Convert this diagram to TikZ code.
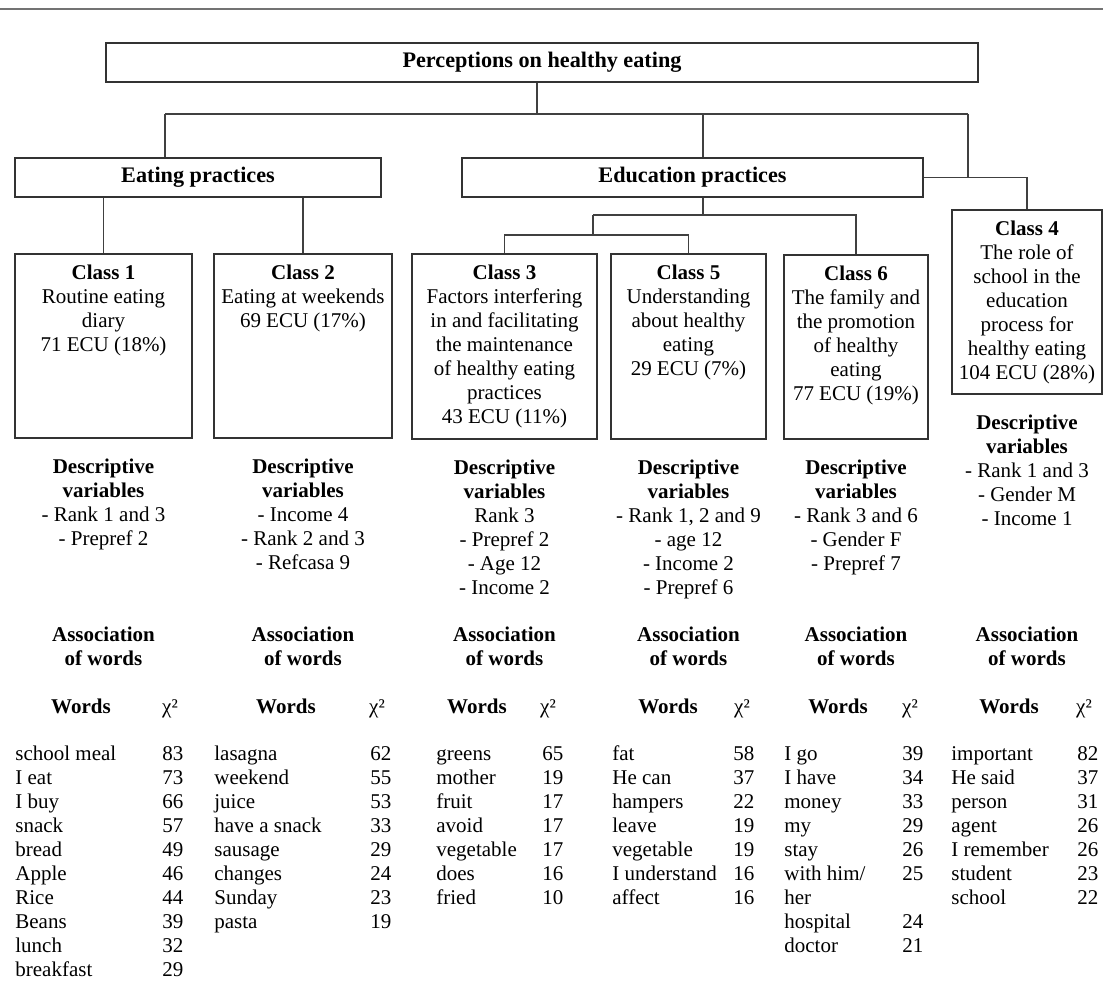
\documentclass[tikz,border=0pt]{standalone}
\usepackage{fontspec}
\setmainfont{Liberation Serif}
\usetikzlibrary{positioning}

\tikzset{
  frame/.style={draw=black!80, line width=0.55pt, inner sep=0pt},
  head/.style={frame, minimum height=19.5pt, font=\fontsize{11.1}{12}\selectfont\bfseries},
  txt/.style={align=center, inner sep=0pt},
  link/.style={draw=black!75, line width=0.55pt},
  words/.style={anchor=north west, inner sep=0pt},
}

\begin{document}
\begin{tikzpicture}[x=0.5pt, y=-0.5pt, font=\fontsize{10.5}{12}\selectfont]
\useasboundingbox (0,0) rectangle (1103,995);
\draw[black!55, line width=1pt] (0,9) -- (1103,9);

% the two upper levels
\node[head, minimum width=436pt] (top) at (542,62.5) {Perceptions on healthy eating};
\node[head, minimum width=183pt] (eat) at (198,177.5) {Eating practices};
\node[head, minimum width=230.5pt] (edu) at (692.5,177.5) {Education practices};

% class boxes
\node[frame, minimum width=88.5pt, minimum height=92pt] (c1) at (103.5,346) {};
\node[frame, minimum width=89pt, minimum height=92pt] (c2) at (303,346) {};
\node[frame, minimum width=92.5pt, minimum height=92.5pt] (c3) at (504.5,346.5) {};
\node[frame, minimum width=77.5pt, minimum height=92.5pt] (c5) at (688.5,346.5) {};
\node[frame, minimum width=72pt, minimum height=92pt] (c6) at (856,347) {};
\node[frame, minimum width=75pt, minimum height=92pt] (c4) at (1027,302) {};

\node[txt, below=5.5pt of c1.north] (t1) {\textbf{Class 1}\\Routine eating\\diary\\71 ECU (18\%)};
\node[txt, below=5.5pt of c2.north] (t2) {\textbf{Class 2}\\Eating at weekends\\69 ECU (17\%)};
\node[txt, below=5.5pt of c3.north] (t3) {\textbf{Class 3}\\Factors interfering\\in and facilitating\\the maintenance\\of healthy eating\\practices\\43 ECU (11\%)};
\node[txt, below=5.5pt of c5.north] (t5) {\textbf{Class 5}\\Understanding\\about healthy\\eating\\29 ECU (7\%)};
\node[txt, below=5.5pt of c6.north] (t6) {\textbf{Class 6}\\The family and\\the promotion\\of healthy\\eating\\77 ECU (19\%)};
\node[txt, below=5.5pt of c4.north] (t4) {\textbf{Class 4}\\The role of\\school in the\\education\\process for\\healthy eating\\104 ECU (28\%)};

% connectors
\coordinate (bus) at (537,114);
\coordinate (busL) at (165,114);
\coordinate (busE) at (703,114);
\coordinate (busR) at (968,114);
\draw[link] (bus |- top.south) -- (bus);
\draw[link] (busL) -- (busR);
\draw[link] (busL) -- (busL |- eat.north);
\draw[link] (busE) -- (busE |- edu.north);
\draw[link] (busR) -- (busR |- edu.east);
\draw[link] (edu.east) -| (c4.north);
\draw[link] (eat.south -| c1.north) -- (c1.north);
\draw[link] (eat.south -| c2.north) -- (c2.north);
\coordinate (eduA) at (703,215);
\coordinate (eduB) at (593,215);
\coordinate (eduC) at (593,235);
\draw[link] (eduA |- edu.south) -- (eduA);
\draw[link] (eduB) -| (c6.north);
\draw[link] (eduB) -- (eduC);
\draw[link] (c3.north) |- (eduC) -| (c5.north);

% descriptive variables
\node[txt, below=10pt of c1.south] (d1) {\textbf{Descriptive}\\\textbf{variables}\\- Rank 1 and 3\\- Prepref 2};
\node[txt, below=10pt of c2.south] (d2) {\textbf{Descriptive}\\\textbf{variables}\\- Income 4\\- Rank 2 and 3\\- Refcasa 9};
\node[txt, below=10pt of c3.south] (d3) {\textbf{Descriptive}\\\textbf{variables}\\Rank 3\\- Prepref 2\\- Age 12\\- Income 2};
\node[txt, below=10pt of c5.south] (d5) {\textbf{Descriptive}\\\textbf{variables}\\- Rank 1, 2 and 9\\- age 12\\- Income 2\\- Prepref 6};
\node[txt, below=10pt of c6.south] (d6) {\textbf{Descriptive}\\\textbf{variables}\\- Rank 3 and 6\\- Gender F\\- Prepref 7};
\node[txt, below=10pt of c4.south] (d4) {\textbf{Descriptive}\\\textbf{variables}\\- Rank 1 and 3\\- Gender M\\- Income 1};

% association of words
\coordinate (arow) at (0,626.5);
\node[txt, anchor=north] (a1) at (c1 |- arow) {\textbf{Association}\\\textbf{of words}};
\node[txt, anchor=north] (a2) at (c2 |- arow) {\textbf{Association}\\\textbf{of words}};
\node[txt, anchor=north] (a3) at (c3 |- arow) {\textbf{Association}\\\textbf{of words}};
\node[txt, anchor=north] (a5) at (c5 |- arow) {\textbf{Association}\\\textbf{of words}};
\node[txt, anchor=north] (a6) at (c6 |- arow) {\textbf{Association}\\\textbf{of words}};
\node[txt, anchor=north] (a4) at (c4 |- arow) {\textbf{Association}\\\textbf{of words}};

\node[anchor=base, inner sep=0pt] (h1) at (81,713) {\textbf{Words}};
\node[anchor=base, inner sep=0pt] (k1) at (170,713) {χ²};
\node[anchor=base, inner sep=0pt] (h2) at (286,713) {\textbf{Words}};
\node[anchor=base, inner sep=0pt] (k2) at (377,713) {χ²};
\node[anchor=base, inner sep=0pt] (h3) at (477,713) {\textbf{Words}};
\node[anchor=base, inner sep=0pt] (k3) at (548,713) {χ²};
\node[anchor=base, inner sep=0pt] (h5) at (668,713) {\textbf{Words}};
\node[anchor=base, inner sep=0pt] (k5) at (742,713) {χ²};
\node[anchor=base, inner sep=0pt] (h6) at (838,713) {\textbf{Words}};
\node[anchor=base, inner sep=0pt] (k6) at (910,713) {χ²};
\node[anchor=base, inner sep=0pt] (h4) at (1009,713) {\textbf{Words}};
\node[anchor=base, inner sep=0pt] (k4) at (1084,713) {χ²};

% word lists
\node[words] (w1) at (15,743) {\begin{tabular}{@{}p{73.5pt}@{}r@{}}
school meal & 83\\ I eat & 73\\ I buy & 66\\ snack & 57\\ bread & 49\\
Apple & 46\\ Rice & 44\\ Beans & 39\\ lunch & 32\\ breakfast & 29
\end{tabular}};
\node[words] (w2) at (214,743) {\begin{tabular}{@{}p{78pt}@{}r@{}}
lasagna & 62\\ weekend & 55\\ juice & 53\\ have a snack & 33\\
sausage & 29\\ changes & 24\\ Sunday & 23\\ pasta & 19
\end{tabular}};
\node[words] (w3) at (436,743) {\begin{tabular}{@{}p{53pt}@{}r@{}}
greens & 65\\ mother & 19\\ fruit & 17\\ avoid & 17\\
vegetable & 17\\ does & 16\\ fried & 10
\end{tabular}};
\node[words] (w5) at (612,743) {\begin{tabular}{@{}p{60.5pt}@{}r@{}}
fat & 58\\ He can & 37\\ hampers & 22\\ leave & 19\\
vegetable & 19\\ I understand & 16\\ affect & 16
\end{tabular}};
\node[words] (w6) at (784,743) {\begin{tabular}{@{}p{59pt}@{}r@{}}
I go & 39\\ I have & 34\\ money & 33\\ my & 29\\ stay & 26\\
with him/ & 25\\ her & \\ hospital & 24\\ doctor & 21
\end{tabular}};
\node[words] (w4) at (951,743) {\begin{tabular}{@{}p{63pt}@{}r@{}}
important & 82\\ He said & 37\\ person & 31\\ agent & 26\\
I remember & 26\\ student & 23\\ school & 22
\end{tabular}};
\end{tikzpicture}
\end{document}
